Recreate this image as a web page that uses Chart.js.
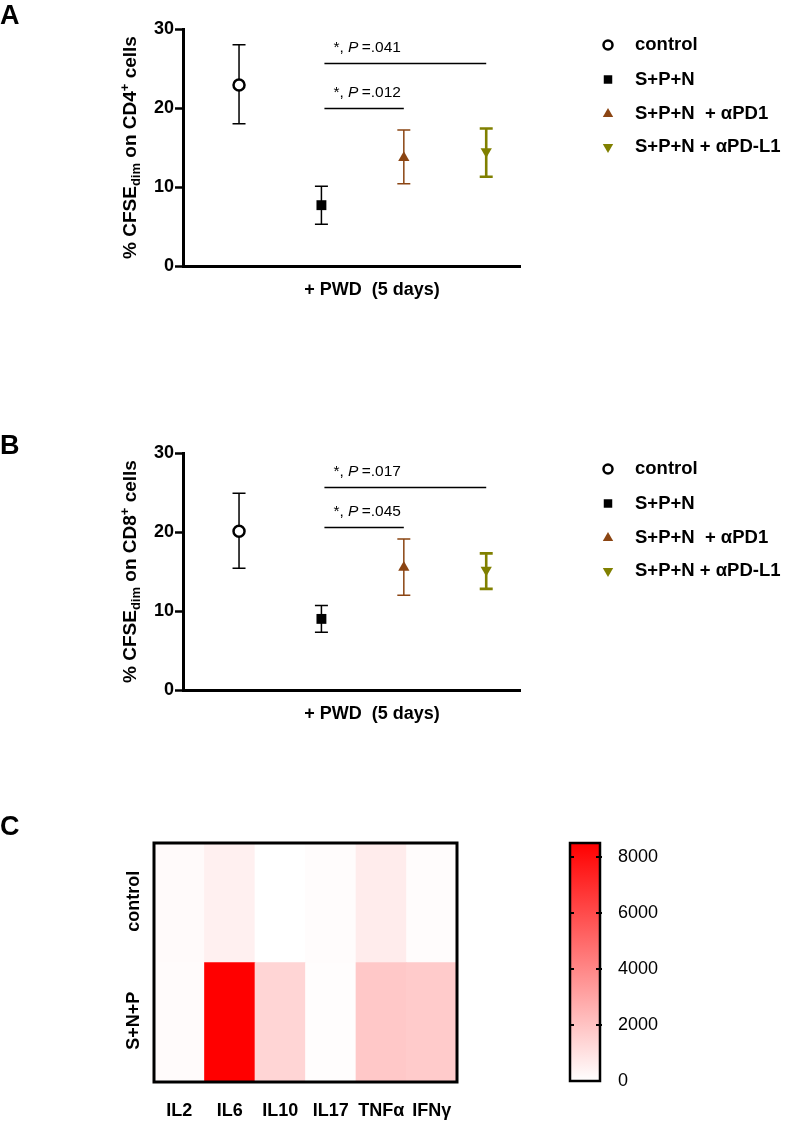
<!DOCTYPE html>
<html>
<head>
<meta charset="utf-8">
<script src="https://cdn.jsdelivr.net/npm/chart.js@4.4.1/dist/chart.umd.min.js"></script>
<style>
  body { margin: 0; background: #fff; width: 787px; height: 1122px; position: relative; overflow: hidden; }
  canvas { position: absolute; }
</style>
</head>
<body>
<canvas id="chartA" width="787" height="310" style="left:0;top:0"></canvas>
<canvas id="chartB" width="787" height="310" style="left:0;top:424px"></canvas>
<canvas id="heatC" width="540" height="342" style="left:0;top:780px"></canvas>
<canvas id="scaleC" width="247" height="342" style="left:540px;top:780px"></canvas>
<script>
// ---- data ----
const groups = ['control', 'S+P+N', 'S+P+N  + \u03b1PD1', 'S+P+N + \u03b1PD-L1'];
const groupX = [1, 2, 3, 4];
const groupColors = ['#000000', '#000000', '#8b4513', '#808000'];

const cd4Mean = [22.9, 7.7, 13.7, 14.5];
const cd4Low = [18.0, 5.3, 10.4, 11.3];
const cd4High = [28.0, 10.1, 17.2, 17.4];

const cd8Mean = [20.1, 9.0, 15.5, 15.2];
const cd8Low = [15.4, 7.3, 12.0, 12.8];
const cd8High = [24.9, 10.7, 19.1, 17.3];

const yTicks = [0, 10, 20, 30];

// significance brackets: from group, to group, height, p value
const cd4BracketFrom = [2, 2];
const cd4BracketTo = [4, 3];
const cd4BracketY = [25.7, 20.0];
const cd4PValues = ['.041', '.012'];

const cd8BracketFrom = [2, 2];
const cd8BracketTo = [4, 3];
const cd8BracketY = [25.7, 20.6];
const cd8PValues = ['.017', '.045'];

const cytokines = ['IL2', 'IL6', 'IL10', 'IL17', 'TNF\u03b1', 'IFN\u03b3'];
const heatRows = ['control', 'S+N+P'];
const controlLevels = [170, 500, 0, 100, 630, 100];
const snpLevels = [150, 8500, 1400, 60, 1830, 1730];
const colorMax = 8500;
const colorTicks = [0, 2000, 4000, 6000, 8000];

const FONT = "'Liberation Sans', Arial, sans-serif";

// ---- helpers ----
function drawRich(ctx, parts, x, y, rotate) {
  ctx.save();
  ctx.translate(x, y);
  if (rotate) ctx.rotate(-Math.PI / 2);
  let total = 0;
  parts.forEach(p => { ctx.font = p.font; p.w = ctx.measureText(p.text).width; total += p.w; });
  let cx = -total / 2;
  ctx.textBaseline = 'middle';
  ctx.textAlign = 'left';
  ctx.fillStyle = '#000';
  parts.forEach(p => { ctx.font = p.font; ctx.fillText(p.text, cx, p.dy || 0); cx += p.w; });
  ctx.restore();
}

function shade(v) {
  const g = Math.round(255 * (1 - Math.min(v, colorMax) / colorMax));
  return `rgb(255,${g},${g})`;
}

// error bars, brackets, titles and legend for the dot panels
const panelDecor = {
  id: 'panelDecor',
  beforeDatasetsDraw(chart, args, opts) {
    const { ctx, scales: { x, y } } = chart;
    ctx.save();
    chart.data.datasets.forEach((ds, i) => {
      const px = x.getPixelForValue(groupX[i]);
      const top = y.getPixelForValue(opts.high[i]);
      const bot = y.getPixelForValue(opts.low[i]);
      ctx.strokeStyle = groupColors[i];
      ctx.lineWidth = i === 3 ? 2.6 : 1.5;
      ctx.beginPath();
      ctx.moveTo(px, top); ctx.lineTo(px, bot);
      ctx.moveTo(px - 6.5, top); ctx.lineTo(px + 6.5, top);
      ctx.moveTo(px - 6.5, bot); ctx.lineTo(px + 6.5, bot);
      ctx.stroke();
    });
    ctx.restore();
  },
  afterDraw(chart, args, opts) {
    const { ctx, chartArea, scales: { x, y } } = chart;
    ctx.save();
    // brackets
    ctx.strokeStyle = '#000';
    ctx.lineWidth = 1.3;
    opts.from.forEach((f, k) => {
      const x1 = x.getPixelForValue(f) + 3;
      const x2 = x.getPixelForValue(opts.to[k]);
      const py = Math.round(y.getPixelForValue(opts.level[k])) + 0.5;
      ctx.beginPath(); ctx.moveTo(x1, py); ctx.lineTo(x2, py); ctx.stroke();
      ctx.fillStyle = '#000';
      ctx.textBaseline = 'middle';
      ctx.textAlign = 'left';
      let tx = x1 + 9;
      const ty = py - 16;
      ctx.font = `15.5px ${FONT}`;
      ctx.fillText('*, ', tx, ty); tx += ctx.measureText('*, ').width;
      ctx.font = `italic 15.5px ${FONT}`;
      ctx.fillText('P', tx, ty); tx += ctx.measureText('P ').width - 1;
      ctx.font = `15.5px ${FONT}`;
      ctx.fillText('=' + opts.p[k], tx, ty);
    });
    // panel letter
    ctx.fillStyle = '#000';
    ctx.font = `bold 27px ${FONT}`;
    ctx.textAlign = 'left';
    ctx.textBaseline = 'middle';
    ctx.fillText(opts.letter, 0, opts.letterY);
    // x title
    ctx.font = `bold 18px ${FONT}`;
    ctx.textAlign = 'center';
    ctx.fillText('+ PWD  (5 days)', 372, chartArea.bottom + 24);
    // y title with subscript / superscript
    const big = `bold 19px ${FONT}`, small = `bold 13px ${FONT}`;
    drawRich(ctx, [
      { text: '% CFSE', font: big },
      { text: 'dim', font: small, dy: 5 },
      { text: ' on ' + opts.cell, font: big },
      { text: '+', font: small, dy: -6 },
      { text: ' cells', font: big }
    ], 131, (chartArea.top + chartArea.bottom) / 2, true);
    // legend
    chart.data.datasets.forEach((ds, i) => {
      const ly = opts.legendY[i];
      ctx.fillStyle = ds.pointBackgroundColor;
      ctx.strokeStyle = ds.pointBorderColor;
      ctx.lineWidth = ds.pointBorderWidth;
      Chart.helpers.drawPoint(ctx, {
        pointStyle: ds.pointStyle,
        rotation: ds.pointRotation || 0,
        radius: ds.pointStyle === 'circle' ? 4.5 : 6,
        borderWidth: ds.pointBorderWidth
      }, 608, ly);
      ctx.fillStyle = '#000';
      ctx.font = `bold 18.5px ${FONT}`;
      ctx.textAlign = 'left';
      ctx.fillText(ds.label, 635, ly);
    });
    ctx.restore();
  }
};

function makeDotPanel(id, mean, low, high, from, to, level, p, cell, letterY) {
  const styles = ['circle', 'rect', 'triangle', 'triangle'];
  return new Chart(document.getElementById(id), {
    type: 'scatter',
    data: {
      datasets: groups.map((g, i) => ({
        label: g,
        data: [{ x: groupX[i], y: mean[i] }],
        pointStyle: styles[i],
        pointRadius: i === 0 ? 5.5 : (i === 1 ? 7 : 6.5),
        pointRotation: i === 3 ? 180 : 0,
        pointBorderWidth: i === 0 ? 2.5 : 0,
        pointBorderColor: groupColors[i],
        pointBackgroundColor: i === 0 ? '#ffffff' : groupColors[i]
      }))
    },
    options: {
      responsive: false,
      animation: false,
      layout: { padding: { left: 133, right: 267, top: 29, bottom: 0 } },
      scales: {
        x: {
          type: 'linear', min: 0.32, max: 4.41,
          ticks: { display: false },
          grid: { display: false },
          border: { color: '#000', width: 3 },
          afterFit: s => { s.height = 44; }
        },
        y: {
          min: 0, max: 30,
          afterBuildTicks: s => { s.ticks = yTicks.map(v => ({ value: v })); },
          ticks: { color: '#000', font: { family: FONT, size: 18, weight: 'bold' }, padding: 1 },
          grid: { drawOnChartArea: false, tickLength: 8, tickWidth: 2.5, tickColor: '#000' },
          border: { color: '#000', width: 3 },
          afterFit: s => { s.width = 50; }
        }
      },
      plugins: {
        legend: { display: false },
        tooltip: { enabled: false },
        panelDecor: {
          low, high, from, to, level, p, cell,
          letter: id === 'chartA' ? 'A' : 'B',
          letterY,
          legendY: [45, 79.5, 114, 147]
        }
      }
    },
    plugins: [panelDecor]
  });
}

makeDotPanel('chartA', cd4Mean, cd4Low, cd4High, cd4BracketFrom, cd4BracketTo, cd4BracketY, cd4PValues, 'CD4', 17);
makeDotPanel('chartB', cd8Mean, cd8Low, cd8High, cd8BracketFrom, cd8BracketTo, cd8BracketY, cd8PValues, 'CD8', 23);

// ---- heatmap ----
const heatDecor = {
  id: 'heatDecor',
  afterDraw(chart) {
    const { ctx, chartArea: a, scales: { y } } = chart;
    ctx.save();
    ctx.strokeStyle = '#000';
    ctx.lineWidth = 3;
    ctx.strokeRect(a.left, a.top, a.right - a.left, a.bottom - a.top);
    ctx.fillStyle = '#000';
    ctx.font = `bold 27px ${FONT}`;
    ctx.textAlign = 'left';
    ctx.textBaseline = 'middle';
    ctx.fillText('C', 0, 48);
    // row labels, rotated
    heatRows.forEach((r, i) => {
      const cy = (y.getPixelForValue(1 - i) + y.getPixelForValue(2 - i)) / 2 - 1.5;
      drawRich(ctx, [{ text: r, font: `bold 18px ${FONT}` }], 134, cy, true);
    });
    ctx.restore();
  }
};

new Chart(document.getElementById('heatC'), {
  type: 'bar',
  data: {
    labels: cytokines,
    datasets: [
      { label: 'S+N+P', data: cytokines.map(() => [0, 1]), backgroundColor: snpLevels.map(shade) },
      { label: 'control', data: cytokines.map(() => [1, 2]), backgroundColor: controlLevels.map(shade) }
    ]
  },
  options: {
    responsive: false,
    animation: false,
    grouped: false,
    barPercentage: 1,
    categoryPercentage: 1,
    borderWidth: 0,
    layout: { padding: { left: 154, right: 83, top: 63, bottom: 0 } },
    scales: {
      x: {
        grid: { display: false },
        border: { display: false },
        ticks: { color: '#000', font: { family: FONT, size: 18, weight: 'bold' }, padding: 10, maxRotation: 0 },
        afterFit: s => { s.height = 40; }
      },
      y: { display: false, min: 0, max: 2 }
    },
    plugins: { legend: { display: false }, tooltip: { enabled: false } }
  },
  plugins: [heatDecor]
});

// ---- colour scale ----
const scaleDecor = {
  id: 'scaleDecor',
  afterDraw(chart) {
    const { ctx, chartArea: a, scales: { y } } = chart;
    ctx.save();
    ctx.strokeStyle = '#000';
    ctx.lineWidth = 2.5;
    ctx.strokeRect(a.left, a.top, a.right - a.left, a.bottom - a.top);
    ctx.lineWidth = 2;
    colorTicks.forEach(v => {
      if (v === 0) return;
      const py = y.getPixelForValue(v);
      ctx.beginPath();
      ctx.moveTo(a.left, py); ctx.lineTo(a.left + 4, py);
      ctx.moveTo(a.right - 4, py); ctx.lineTo(a.right + 2, py);
      ctx.stroke();
    });
    ctx.restore();
  }
};

new Chart(document.getElementById('scaleC'), {
  type: 'bar',
  data: {
    labels: [''],
    datasets: [{
      data: [[0, colorMax]],
      backgroundColor: c => {
        const a = c.chart.chartArea;
        if (!a) return '#f00';
        const g = c.chart.ctx.createLinearGradient(0, a.bottom, 0, a.top);
        g.addColorStop(0, '#ffffff');
        g.addColorStop(1, '#ff0000');
        return g;
      },
      barPercentage: 1,
      categoryPercentage: 1,
      borderWidth: 0
    }]
  },
  options: {
    responsive: false,
    animation: false,
    layout: { padding: { left: 30, right: 107, top: 63, bottom: 41 } },
    scales: {
      x: { display: false },
      y: {
        position: 'right',
        min: 0, max: colorMax,
        afterBuildTicks: s => { s.ticks = colorTicks.map(v => ({ value: v })); },
        grid: { display: false },
        border: { display: false },
        ticks: { color: '#000', font: { family: FONT, size: 18 }, padding: 10, callback: v => String(v) },
        afterFit: s => { s.width = 80; }
      }
    },
    plugins: { legend: { display: false }, tooltip: { enabled: false } }
  },
  plugins: [scaleDecor]
});
</script>
</body>
</html>
